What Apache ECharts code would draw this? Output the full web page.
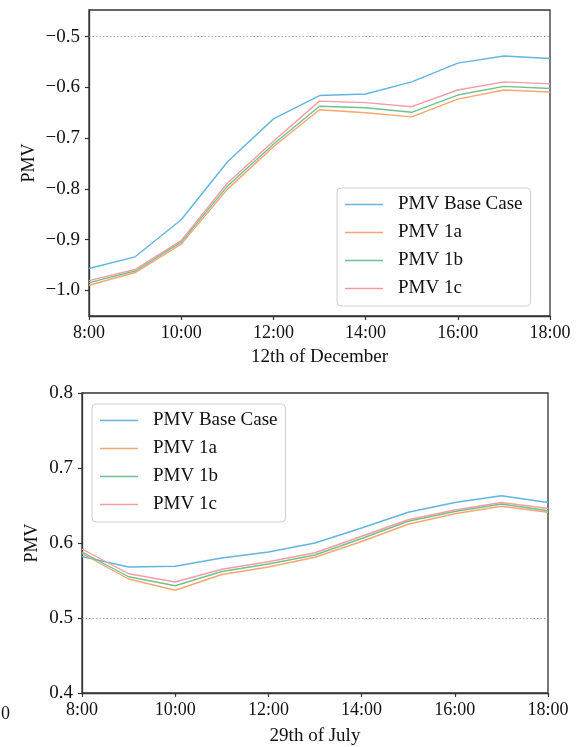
<!DOCTYPE html>
<html>
<head>
<meta charset="utf-8">
<title>PMV comparison</title>
<script src="https://cdn.jsdelivr.net/npm/echarts@6/dist/echarts.min.js"></script>
<style>
  html, body { margin: 0; padding: 0; background: #fff; }
  #chart { width: 584px; height: 747px; }
</style>
</head>
<body>
<div id="chart"></div>
<script>
// Hourly time steps shared by both days
const hours = ['8:00', '9:00', '10:00', '11:00', '12:00', '13:00', '14:00', '15:00', '16:00', '17:00', '18:00'];

// 12th of December
const decBase = [-0.957, -0.934, -0.861, -0.747, -0.662, -0.616, -0.613, -0.589, -0.552, -0.538, -0.543];
const dec1a   = [-0.990, -0.965, -0.909, -0.801, -0.717, -0.644, -0.650, -0.658, -0.623, -0.605, -0.609];
const dec1b   = [-0.985, -0.962, -0.905, -0.795, -0.712, -0.637, -0.640, -0.649, -0.615, -0.598, -0.602];
const dec1c   = [-0.981, -0.959, -0.902, -0.789, -0.706, -0.627, -0.630, -0.638, -0.605, -0.589, -0.593];

// 29th of July
const julBase = [0.582, 0.568, 0.569, 0.580, 0.588, 0.600, 0.620, 0.641, 0.654, 0.663, 0.654];
const jul1a   = [0.586, 0.552, 0.537, 0.558, 0.568, 0.581, 0.602, 0.625, 0.639, 0.649, 0.641];
const jul1b   = [0.588, 0.555, 0.543, 0.562, 0.572, 0.584, 0.606, 0.629, 0.642, 0.652, 0.643];
const jul1c   = [0.592, 0.559, 0.548, 0.565, 0.575, 0.587, 0.609, 0.631, 0.644, 0.654, 0.646];

// Tick values
const decTicks = [-1.0, -0.9, -0.8, -0.7, -0.6, -0.5];
const julTicks = [0.4, 0.5, 0.6, 0.7, 0.8];

const seriesNames = ['PMV Base Case', 'PMV 1a', 'PMV 1b', 'PMV 1c'];
const colors = ['#63b4e0', '#fba56f', '#6cc392', '#f79ca5'];

const FONT = '"Liberation Serif", "Times New Roman", serif';
const SPINE = '#333333';

function fmtTick(v) {
  const s = Math.abs(v).toFixed(1);
  return v < 0 ? '\u2212' + s : s;
}

function xAxisFor(gridIndex, title, gap) {
  return {
    type: 'category', gridIndex, data: hours, boundaryGap: false,
    name: title, nameLocation: 'middle', nameGap: gap,
    nameTextStyle: { fontFamily: FONT, fontSize: 19, color: '#111' },
    axisLine: { show: true, lineStyle: { color: SPINE, width: 1.3 } },
    axisTick: { show: true, interval: 1, length: 4, lineStyle: { color: SPINE, width: 1.2 } },
    axisLabel: { interval: 1, margin: 8, fontFamily: FONT, fontSize: 18, color: '#111' },
    splitLine: { show: false }
  };
}

function yAxisFor(gridIndex, min, max, ticks, gap) {
  return {
    type: 'value', gridIndex, min, max,
    name: 'PMV', nameLocation: 'middle', nameGap: gap, nameRotate: 90,
    nameMoveOverlap: false,
    nameTextStyle: { fontFamily: FONT, fontSize: 18, color: '#111' },
    axisLine: { show: true, lineStyle: { color: SPINE, width: 1.3 } },
    axisTick: { show: true, length: 4, customValues: ticks, lineStyle: { color: SPINE, width: 1.2 } },
    axisLabel: { margin: 9, customValues: ticks, formatter: fmtTick, fontFamily: FONT, fontSize: 19, color: '#111' },
    splitLine: { show: false }
  };
}

function legendFor(left, top) {
  return {
    orient: 'vertical', left, top,
    data: seriesNames,
    icon: 'rect',
    itemWidth: 38, itemHeight: 1.6, itemGap: 9,
    padding: [7, 8, 8, 8],
    borderColor: '#cfcfcf', borderWidth: 1, borderRadius: 4,
    backgroundColor: 'rgba(255,255,255,0.85)',
    textStyle: { fontFamily: FONT, fontSize: 19, color: '#111', padding: [0, 0, 0, 10] },
    selectedMode: false
  };
}

function lineSeries(name, data, idx, axisIndex, refY) {
  const s = {
    name, type: 'line', data,
    xAxisIndex: axisIndex, yAxisIndex: axisIndex,
    symbol: 'none', showSymbol: false, smooth: false,
    lineStyle: { color: colors[idx], width: 1.4 },
    itemStyle: { color: colors[idx] },
    z: 3 + idx,
    animation: false
  };
  if (refY !== undefined) {
    s.markLine = {
      silent: true, symbol: 'none', label: { show: false },
      lineStyle: { color: '#8a8a8a', width: 0.8, type: [1.5, 2] },
      data: [{ yAxis: refY }],
      animation: false
    };
  }
  return s;
}

const chart = echarts.init(document.getElementById('chart'), null, { renderer: 'canvas' });

chart.setOption({
  backgroundColor: '#ffffff',
  animation: false,
  grid: [
    { left: 89, top: 10, width: 461, height: 306, show: true, borderColor: SPINE, borderWidth: 1.3, backgroundColor: 'transparent' },
    { left: 82, top: 393, width: 466, height: 304, show: true, borderColor: SPINE, borderWidth: 1.3, backgroundColor: 'transparent' }
  ],
  legend: [legendFor(337, 188), legendFor(92, 404)],
  xAxis: [xAxisFor(0, '12th of December', 32), xAxisFor(1, '29th of July', 34)],
  yAxis: [yAxisFor(0, -1.0507, -0.4473, decTicks, 51), yAxisFor(1, 0.4, 0.8, julTicks, 41)],
  series: [
    lineSeries(seriesNames[0], decBase, 0, 0, -0.5),
    lineSeries(seriesNames[1], dec1a, 1, 0),
    lineSeries(seriesNames[2], dec1b, 2, 0),
    lineSeries(seriesNames[3], dec1c, 3, 0),
    lineSeries(seriesNames[0], julBase, 0, 1, 0.5),
    lineSeries(seriesNames[1], jul1a, 1, 1),
    lineSeries(seriesNames[2], jul1b, 2, 1),
    lineSeries(seriesNames[3], jul1c, 3, 1)
  ],
  graphic: [
    {
      type: 'text', left: 1, top: 705,
      style: { text: '0', font: '18px ' + FONT, fill: '#111' }
    }
  ]
});
</script>
</body>
</html>
